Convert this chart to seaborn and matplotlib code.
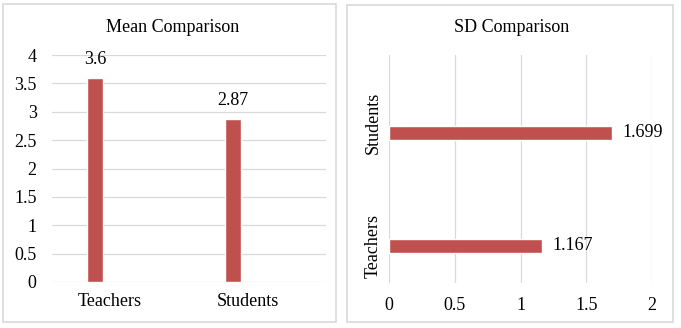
import matplotlib
matplotlib.use("Agg")
import matplotlib.pyplot as plt
import matplotlib.transforms as mtransforms
from matplotlib.patches import Rectangle
import seaborn as sns
import pandas as pd
import numpy as np

groups = ["Teachers", "Students"]
mean_values = [3.6, 2.87]
mean_labels = ["3.6", "2.87"]
sd_values = [1.167, 1.699]
sd_labels = ["1.167", "1.699"]
mean_ticks = [0, 0.5, 1, 1.5, 2, 2.5, 3, 3.5, 4]
sd_ticks = [0, 0.5, 1, 1.5, 2]

sns.set_theme(style="white")
plt.rcParams["font.family"] = ["Liberation Serif", "DejaVu Serif"]
FS = 13
plt.rcParams["font.size"] = FS

BAR = "#C0504D"
GRID = "#D9D9D9"

W, H = 681, 328
fig = plt.figure(figsize=(W / 100, H / 100), dpi=100)
fig.patch.set_facecolor("white")

def ax_rect(x0, y0, x1, y1):
    return [x0 / W, 1 - y1 / H, (x1 - x0) / W, (y1 - y0) / H]

# panel borders
for (x0, y0, x1, y1) in [(3, 4, 336, 322), (347, 5, 673, 322)]:
    fig.patches.append(Rectangle((x0 / W, 1 - y1 / H), (x1 - x0) / W, (y1 - y0) / H,
                                 transform=fig.transFigure, fill=False,
                                 edgecolor=GRID, linewidth=1.2))

# ---- Left: Mean comparison
ax1 = fig.add_axes(ax_rect(52, 55, 326, 282))
df_mean = pd.DataFrame({"group": groups, "mean": mean_values})
sns.barplot(data=df_mean, x="group", y="mean", color=BAR, width=0.117,
            saturation=1, ax=ax1, order=groups)
ax1.set_ylim(0, 4)
ax1.set_xlim(-0.314, 1.679)
ax1.set_yticks(mean_ticks)
ax1.set_yticklabels([f"{t:g}" for t in mean_ticks])
ax1.yaxis.grid(True, color=GRID, linewidth=0.9)
ax1.set_axisbelow(True)
for s in ax1.spines.values():
    s.set_visible(False)
ax1.set_xlabel("")
ax1.set_ylabel("")
ax1.tick_params(axis="y", length=0, pad=11, labelsize=FS, labelcolor="black")
ax1.tick_params(axis="x", length=0, pad=8, labelsize=FS, labelcolor="black")
off = mtransforms.ScaledTranslation(15 / 100, 0, fig.dpi_scale_trans)
for lab in ax1.get_xticklabels():
    lab.set_transform(lab.get_transform() + off)
for i, (v, t) in enumerate(zip(mean_values, mean_labels)):
    ax1.annotate(t, (i, v), xytext=(0, 7), textcoords="offset points",
                 ha="center", va="bottom", fontsize=FS, color="black")
fig.text(173 / W, 1 - 27 / H, "Mean Comparison", ha="center", va="center",
         fontsize=FS, color="black")

# ---- Right: SD comparison
ax2 = fig.add_axes(ax_rect(389, 55, 652, 283))
df_sd = pd.DataFrame({"group": groups, "sd": sd_values})
order_h = ["Students", "Teachers"]
sns.barplot(data=df_sd, y="group", x="sd", color=BAR, width=0.124,
            saturation=1, orient="h", ax=ax2, order=order_h)
ax2.set_xlim(0, 2)
ax2.set_ylim(1.33, -0.69)
ax2.set_xticks(sd_ticks)
ax2.set_xticklabels([f"{t:g}" for t in sd_ticks])
ax2.xaxis.grid(True, color=GRID, linewidth=0.9)
ax2.set_axisbelow(True)
for s in ax2.spines.values():
    s.set_visible(False)
ax2.set_xlabel("")
ax2.set_ylabel("")
ax2.tick_params(axis="x", length=0, pad=10, labelsize=FS, labelcolor="black")
ax2.tick_params(axis="y", length=0, pad=5, labelsize=FS, labelcolor="black")
up = mtransforms.ScaledTranslation(0, 10 / 100, fig.dpi_scale_trans)
for lab in ax2.get_yticklabels():
    lab.set_rotation(90)
    lab.set_va("center")
    lab.set_ha("right")
    if lab.get_text() == "Students":
        lab.set_transform(lab.get_transform() + up)
for g, v, t in zip(groups, sd_values, sd_labels):
    yi = order_h.index(g)
    ax2.annotate(t, (v, yi), xytext=(7, 0), textcoords="offset points",
                 ha="left", va="center", fontsize=FS, color="black")
fig.text(512 / W, 1 - 27 / H, "SD Comparison", ha="center", va="center",
         fontsize=FS, color="black")

fig.savefig("out.png", dpi=100, facecolor="white")
